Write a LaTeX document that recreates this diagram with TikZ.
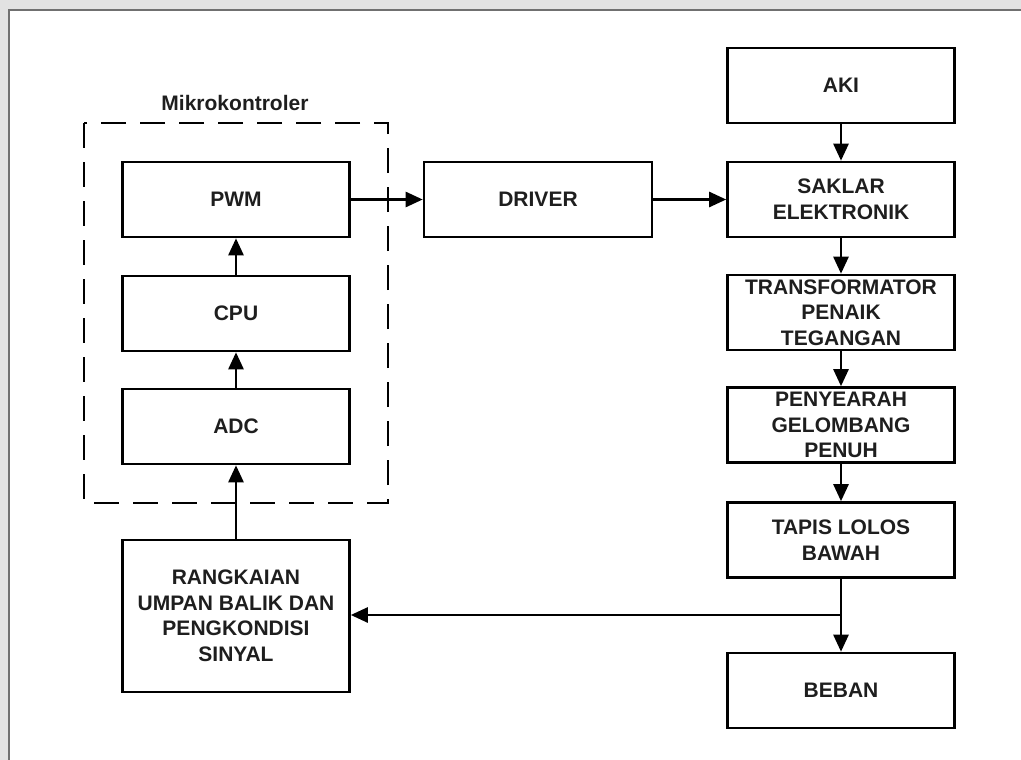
\documentclass[tikz,border=0pt]{standalone}
\usepackage{fontspec}
\setmainfont{Liberation Sans}
\usetikzlibrary{arrows.meta}
\definecolor{txt}{HTML}{1E1E1E}
\definecolor{framegray}{HTML}{707070}
\definecolor{wmgray}{HTML}{E2E2E2}
\begin{document}
\begin{tikzpicture}[x=1pt,y=-1pt,
  blk/.style={draw=black, line width=2.6pt, minimum width=227pt, minimum height=75pt,
    inner sep=0pt, align=center, text=txt, font=\fontsize{21}{25.5}\selectfont\bfseries},
  arr/.style={line width=2.6pt, -{Triangle[length=17pt,width=15pt]}},
  lbl/.style={text=txt, font=\fontsize{21}{25.5}\selectfont\bfseries, inner sep=0pt}]
\useasboundingbox (0,0) rectangle (1021,760);
% frame and watermark strip
\fill[wmgray] (0,0) rectangle (1021,9);
\fill[wmgray] (0,0) rectangle (8,760);
\draw[framegray, line width=2.5pt] (9,760) -- (9,10) -- (1021,10);

% microcontroller group
\draw[black, line width=2.6pt, dash pattern=on 25pt off 14pt] (84,123) rectangle (388,503);
\node[lbl] (mk) at (235,103) {Mikrokontroler};

\node[blk] (pwm) at (236,199.5) {PWM};
\node[blk] (cpu) at (236,313.5) {CPU};
\node[blk] (adc) at (236,426.5) {ADC};
\node[blk, minimum height=152pt] (fb) at (236,616) {RANGKAIAN\\UMPAN BALIK DAN\\PENGKONDISI\\SINYAL};

\node[blk, minimum width=228pt] (drv) at (538,199.5) {DRIVER};

\node[blk] (aki) at (841,85.5) {AKI};
\node[blk] (sak) at (841,199.5) {SAKLAR\\ELEKTRONIK};
\node[blk] (trf) at (841,312.5) {TRANSFORMATOR\\PENAIK\\TEGANGAN};
\node[blk] (pny) at (841,425) {PENYEARAH\\GELOMBANG\\PENUH};
\node[blk] (tps) at (841,540) {TAPIS LOLOS\\BAWAH};
\node[blk] (beb) at (841,690.5) {BEBAN};

\coordinate (br) at (841,615);

% connectors
\draw[arr] (adc) -- (cpu);
\draw[arr] (cpu) -- (pwm);
\draw[arr] (fb) -- (adc);
\draw[arr] (pwm) -- (drv);
\draw[arr] (drv) -- (sak);
\draw[arr] (aki) -- (sak);
\draw[arr] (sak) -- (trf);
\draw[arr] (trf) -- (pny);
\draw[arr] (pny) -- (tps);
\draw[arr] (tps) -- (beb);
\draw[arr] (br) -- (br -| fb.east);
\end{tikzpicture}
\end{document}
